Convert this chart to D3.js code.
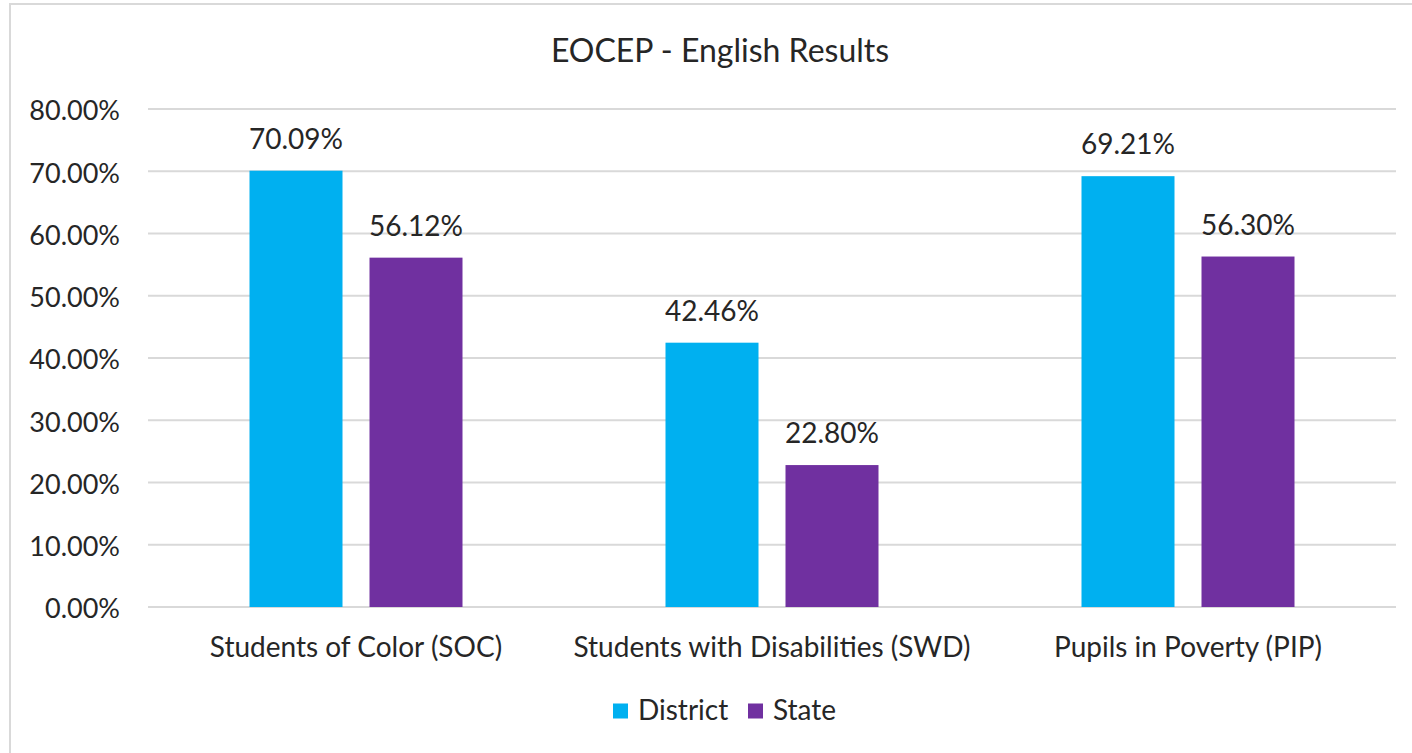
<!DOCTYPE html>
<html><head><meta charset="utf-8">
<script src="https://cdn.jsdelivr.net/npm/d3@7"></script>
<style>
html,body{margin:0;padding:0;background:#fff;}
svg{display:block;}
text{font-family:Lato,"Open Sans",sans-serif;fill:#262626;}
</style></head>
<body>
<svg id="chart" width="1412" height="753"></svg>
<script>
const title = "EOCEP - English Results";
const categories = ["Students of Color (SOC)", "Students with Disabilities (SWD)", "Pupils in Poverty (PIP)"];
const seriesNames = ["District", "State"];
const districtValues = [70.09, 42.46, 69.21];
const stateValues = [56.12, 22.80, 56.30];
const yTicks = [0, 10, 20, 30, 40, 50, 60, 70, 80];
const colors = ["#00B0F0", "#7030A0"];

const svg = d3.select("#chart");
// chart border
svg.append("rect").attr("x", 10).attr("y", 4).attr("width", 1420).attr("height", 780)
  .attr("fill", "#fff").attr("stroke", "#d9d9d9").attr("stroke-width", 2);

const plotL = 148, plotR = 1396, plotT = 109, plotB = 607;
const y = d3.scaleLinear().domain([0, 80]).range([plotB, plotT]);
const x0 = d3.scaleBand().domain(categories).range([plotL, plotR]).paddingInner(0).paddingOuter(0);
const groupW = 213;
const x1 = d3.scaleBand().domain(seriesNames).range([0, groupW]).paddingInner(0.225).paddingOuter(0);

// gridlines
svg.append("g").selectAll("line").data(yTicks).join("line")
  .attr("x1", plotL).attr("x2", plotR)
  .attr("y1", d => y(d)).attr("y2", d => y(d))
  .attr("stroke", "#d9d9d9").attr("stroke-width", 2);

// y axis labels
const yAxis = d3.axisLeft(y).tickValues(yTicks).tickSize(0).tickPadding(0)
  .tickFormat(d => d.toFixed(2) + "%");
const ya = svg.append("g").attr("transform", `translate(${plotL - 28},0)`).call(yAxis);
ya.select(".domain").remove();
ya.selectAll("text").style("font-family", "Lato").style("font-size", "27px").attr("fill", "#262626").attr("dy", "0.4em");

const data = categories.map((c, i) => ({cat: c, vals: [districtValues[i], stateValues[i]]}));

const groups = svg.append("g").selectAll("g").data(data).join("g")
  .attr("transform", d => `translate(${x0(d.cat) + x0.bandwidth() / 2 - groupW / 2},0)`);

groups.selectAll("rect").data(d => d.vals.map((v, j) => ({s: seriesNames[j], v, j}))).join("rect")
  .attr("x", d => x1(d.s)).attr("width", x1.bandwidth())
  .attr("y", d => y(d.v)).attr("height", d => y(0) - y(d.v))
  .attr("fill", d => colors[d.j]);

groups.selectAll("text.lbl").data(d => d.vals.map((v, j) => ({s: seriesNames[j], v, j}))).join("text")
  .attr("class", "lbl")
  .attr("x", d => x1(d.s) + x1.bandwidth() / 2)
  .attr("y", d => y(d.v) - 22)
  .attr("text-anchor", "middle")
  .style("font-size", "28px")
  .text(d => d.v.toFixed(2) + "%");

// x axis labels
const xAxis = d3.axisBottom(x0).tickSize(0).tickPadding(0);
const xa = svg.append("g").attr("transform", `translate(0,657)`).call(xAxis);
xa.select(".domain").remove();
xa.selectAll("text").style("font-family", "Lato").style("font-size", "28px").attr("fill", "#262626").attr("dy", "0");

// title
svg.append("text").attr("x", 720).attr("y", 62).attr("text-anchor", "middle")
  .style("font-size", "32px").text(title);

// legend
const legendX = [613, 748];
const leg = svg.append("g").selectAll("g").data(seriesNames).join("g")
  .attr("transform", (d, i) => `translate(${legendX[i]},711)`);
leg.append("rect").attr("x", 0).attr("y", -7.5).attr("width", 15).attr("height", 15)
  .attr("fill", (d, i) => colors[i]);
leg.append("text").attr("x", 25).attr("y", 9)
  .style("font-size", "28px").text(d => d);
</script>
</body></html>
